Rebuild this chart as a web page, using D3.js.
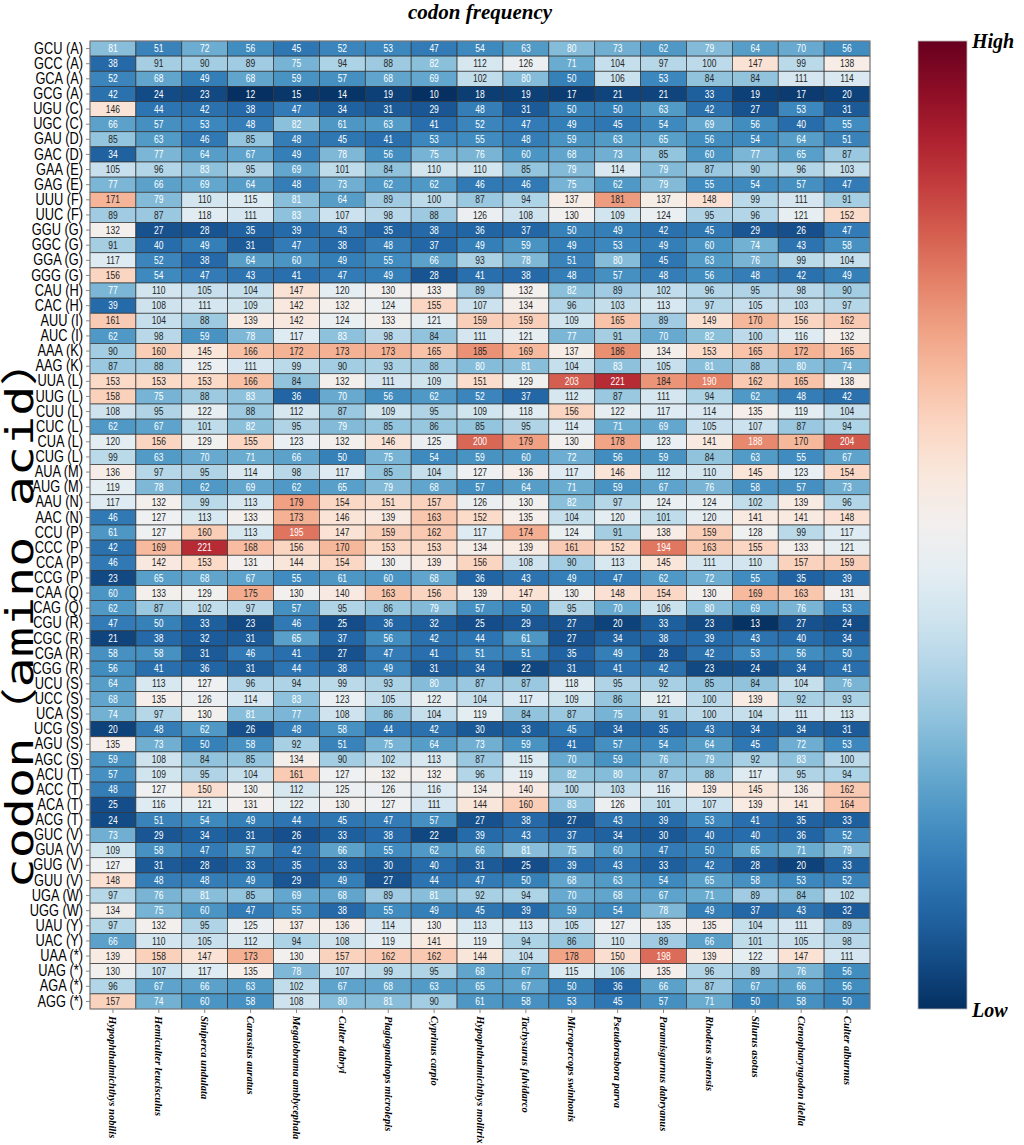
<!DOCTYPE html>
<html>
<head>
<meta charset="utf-8">
<script src="https://cdn.jsdelivr.net/npm/d3@7"></script>
<style>
  body { margin: 0; background: #fff; }
  svg { display: block; }
</style>
</head>
<body>
<script>
const species = [
  "Hypophthalmichthys nobilis", "Hemiculter leucisculus", "Siniperca undulata",
  "Carassius auratus", "Megalobrama amblycephala", "Culter dabryi",
  "Plagiognathops microlepis", "Cyprinus carpio", "Hypophthalmichthys molitrix",
  "Tachysurus fulvidarco", "Micropercops swinhonis", "Pseudorasbora parva",
  "Paramisgurnus dabryanus", "Rhodeus sinensis", "Silurus asotus",
  "Ctenopharyngodon idella", "Culter alburnus"
];

const codons = [
  "GCU (A)", "GCC (A)", "GCA (A)", "GCG (A)", "UGU (C)", "UGC (C)", "GAU (D)", "GAC (D)",
  "GAA (E)", "GAG (E)", "UUU (F)", "UUC (F)", "GGU (G)", "GGC (G)", "GGA (G)", "GGG (G)",
  "CAU (H)", "CAC (H)", "AUU (I)", "AUC (I)", "AAA (K)", "AAG (K)", "UUA (L)", "UUG (L)",
  "CUU (L)", "CUC (L)", "CUA (L)", "CUG (L)", "AUA (M)", "AUG (M)", "AAU (N)", "AAC (N)",
  "CCU (P)", "CCC (P)", "CCA (P)", "CCG (P)", "CAA (Q)", "CAG (Q)", "CGU (R)", "CGC (R)",
  "CGA (R)", "CGG (R)", "UCU (S)", "UCC (S)", "UCA (S)", "UCG (S)", "AGU (S)", "AGC (S)",
  "ACU (T)", "ACC (T)", "ACA (T)", "ACG (T)", "GUC (V)", "GUA (V)", "GUG (V)", "GUU (V)",
  "UGA (W)", "UGG (W)", "UAU (Y)", "UAC (Y)", "UAA (*)", "UAG (*)", "AGA (*)", "AGG (*)"
];

// one row per codon, one value per species
const counts = [
  [81, 51, 72, 56, 45, 52, 53, 47, 54, 63, 80, 73, 62, 79, 64, 70, 56],
  [38, 91, 90, 89, 75, 94, 88, 82, 112, 126, 71, 104, 97, 100, 147, 99, 138],
  [52, 68, 49, 68, 59, 57, 68, 69, 102, 80, 50, 106, 53, 84, 84, 111, 114],
  [42, 24, 23, 12, 15, 14, 19, 10, 18, 19, 17, 21, 21, 33, 19, 17, 20],
  [146, 44, 42, 38, 47, 34, 31, 29, 48, 31, 50, 50, 63, 42, 27, 53, 31],
  [66, 57, 53, 48, 82, 61, 63, 41, 52, 47, 49, 45, 54, 69, 56, 40, 55],
  [85, 63, 46, 85, 48, 45, 41, 53, 55, 48, 59, 63, 65, 56, 54, 64, 51],
  [34, 77, 64, 67, 49, 78, 56, 75, 76, 60, 68, 73, 85, 60, 77, 65, 87],
  [105, 96, 83, 95, 69, 101, 84, 110, 110, 85, 79, 114, 79, 87, 90, 96, 103],
  [77, 66, 69, 64, 48, 73, 62, 62, 46, 46, 75, 62, 79, 55, 54, 57, 47],
  [171, 79, 110, 115, 81, 64, 89, 100, 87, 94, 137, 181, 137, 148, 99, 111, 91],
  [89, 87, 118, 111, 83, 107, 98, 88, 126, 108, 130, 109, 124, 95, 96, 121, 152],
  [132, 27, 28, 35, 39, 43, 35, 38, 36, 37, 50, 49, 42, 45, 29, 26, 47],
  [91, 40, 49, 31, 47, 38, 48, 37, 49, 59, 49, 53, 49, 60, 74, 43, 58],
  [117, 52, 38, 64, 60, 49, 55, 66, 93, 78, 51, 80, 45, 63, 76, 99, 104],
  [156, 54, 47, 43, 41, 47, 49, 28, 41, 38, 48, 57, 48, 56, 48, 42, 49],
  [77, 110, 105, 104, 147, 120, 130, 133, 89, 132, 82, 89, 102, 96, 95, 98, 90],
  [39, 108, 111, 109, 142, 132, 124, 155, 107, 134, 96, 103, 113, 97, 105, 103, 97],
  [161, 104, 88, 139, 142, 124, 133, 121, 159, 159, 109, 165, 89, 149, 170, 156, 162],
  [62, 98, 59, 78, 117, 83, 98, 84, 111, 121, 77, 91, 70, 82, 100, 116, 132],
  [90, 160, 145, 166, 172, 173, 173, 165, 185, 169, 137, 186, 134, 153, 165, 172, 165],
  [87, 88, 125, 111, 99, 90, 93, 88, 80, 81, 104, 83, 105, 81, 88, 80, 74],
  [153, 153, 153, 166, 84, 132, 111, 109, 151, 129, 203, 221, 184, 190, 162, 165, 138],
  [158, 75, 88, 83, 36, 70, 56, 62, 52, 37, 112, 87, 111, 94, 62, 48, 42],
  [108, 95, 122, 88, 112, 87, 109, 95, 109, 118, 156, 122, 117, 114, 135, 119, 104],
  [62, 67, 101, 82, 95, 79, 85, 86, 85, 95, 114, 71, 69, 105, 107, 87, 94],
  [120, 156, 129, 155, 123, 132, 146, 125, 200, 179, 130, 178, 123, 141, 188, 170, 204],
  [99, 63, 70, 71, 66, 50, 75, 54, 59, 60, 72, 56, 59, 84, 63, 55, 67],
  [136, 97, 95, 114, 98, 117, 85, 104, 127, 136, 117, 146, 112, 110, 145, 123, 154],
  [119, 78, 62, 69, 62, 65, 79, 68, 57, 64, 71, 59, 67, 76, 58, 57, 73],
  [117, 132, 99, 113, 179, 154, 151, 157, 126, 130, 82, 97, 124, 124, 102, 139, 96],
  [46, 127, 113, 133, 173, 146, 139, 163, 152, 135, 104, 120, 101, 120, 141, 141, 148],
  [61, 127, 160, 113, 195, 147, 159, 162, 117, 174, 124, 91, 138, 159, 128, 99, 117],
  [42, 169, 221, 168, 156, 170, 153, 153, 134, 139, 161, 152, 194, 163, 155, 133, 121],
  [46, 142, 153, 131, 144, 154, 130, 139, 156, 108, 90, 113, 145, 111, 110, 157, 159],
  [23, 65, 68, 67, 55, 61, 60, 68, 36, 43, 49, 47, 62, 72, 55, 35, 39],
  [60, 133, 129, 175, 130, 140, 163, 156, 139, 147, 130, 148, 154, 130, 169, 163, 131],
  [62, 87, 102, 97, 57, 95, 86, 79, 57, 50, 95, 70, 106, 80, 69, 76, 53],
  [47, 50, 33, 23, 46, 25, 36, 32, 25, 29, 27, 20, 33, 23, 13, 27, 24],
  [21, 38, 32, 31, 65, 37, 56, 42, 44, 61, 27, 34, 38, 39, 43, 40, 34],
  [58, 58, 31, 46, 41, 27, 47, 41, 51, 51, 35, 49, 28, 42, 53, 56, 50],
  [56, 41, 36, 31, 44, 38, 49, 31, 34, 22, 31, 41, 42, 23, 24, 34, 41],
  [64, 113, 127, 96, 94, 99, 93, 80, 87, 87, 118, 95, 92, 85, 84, 104, 76],
  [68, 135, 126, 114, 83, 123, 105, 122, 104, 117, 109, 86, 121, 100, 139, 92, 93],
  [74, 97, 130, 81, 77, 108, 86, 104, 119, 84, 87, 75, 91, 100, 104, 111, 113],
  [20, 48, 62, 26, 48, 58, 44, 42, 30, 33, 45, 34, 35, 43, 34, 34, 31],
  [135, 73, 50, 58, 92, 51, 75, 64, 73, 59, 41, 57, 54, 64, 45, 72, 53],
  [59, 108, 84, 85, 134, 90, 102, 113, 87, 115, 70, 59, 76, 79, 92, 83, 100],
  [57, 109, 95, 104, 161, 127, 132, 132, 96, 119, 82, 80, 87, 88, 117, 95, 94],
  [48, 127, 150, 130, 112, 125, 126, 116, 134, 140, 100, 103, 116, 139, 145, 136, 162],
  [25, 116, 121, 131, 122, 130, 127, 111, 144, 160, 83, 126, 101, 107, 139, 141, 164],
  [24, 51, 54, 49, 44, 45, 47, 57, 27, 38, 27, 43, 39, 53, 41, 35, 33],
  [73, 29, 34, 31, 26, 33, 38, 22, 39, 43, 37, 34, 30, 40, 40, 36, 52],
  [109, 58, 47, 57, 42, 66, 55, 62, 66, 81, 75, 60, 47, 50, 65, 71, 79],
  [127, 31, 28, 33, 35, 33, 30, 40, 31, 25, 39, 43, 33, 42, 28, 20, 33],
  [148, 48, 48, 49, 29, 49, 27, 44, 47, 50, 68, 63, 54, 65, 58, 53, 52],
  [97, 76, 81, 85, 69, 68, 89, 81, 92, 94, 70, 68, 67, 71, 89, 84, 102],
  [134, 75, 60, 47, 55, 38, 55, 49, 45, 39, 59, 54, 78, 49, 37, 43, 32],
  [97, 132, 95, 125, 137, 136, 114, 130, 113, 113, 105, 127, 135, 135, 104, 111, 89],
  [66, 110, 105, 112, 94, 108, 119, 141, 119, 94, 86, 110, 89, 66, 101, 105, 98],
  [139, 158, 147, 173, 130, 157, 162, 162, 144, 104, 178, 150, 198, 139, 122, 147, 111],
  [130, 107, 117, 135, 78, 107, 99, 95, 68, 67, 115, 106, 135, 96, 89, 76, 56],
  [96, 67, 66, 63, 102, 67, 68, 63, 65, 67, 50, 36, 66, 87, 67, 66, 56],
  [157, 74, 60, 58, 108, 80, 81, 90, 61, 58, 53, 45, 57, 71, 50, 58, 50]
];

const colorDomain = [12, 250];
// values inside this band get dark annotation text, the rest white
const darkTextBand = [84, 186];

const width = 1024;
const height = 1145;
const margin = { top: 41, left: 90, right: 154, bottom: 136 };

const cells = counts.flatMap((row, i) =>
  row.map((v, j) => ({ codon: codons[i], species: species[j], value: v })));

const x = d3.scaleBand()
  .domain(species)
  .range([margin.left, width - margin.right]);

const y = d3.scaleBand()
  .domain(codons)
  .range([margin.top, height - margin.bottom]);

const color = d3.scaleSequential(t => d3.interpolateRdBu(1 - t))
  .domain(colorDomain);

const textColor = v =>
  (v >= darkTextBand[0] && v <= darkTextBand[1]) ? "#262626" : "#fff";

const svg = d3.select("body")
  .append("svg")
  .attr("width", width)
  .attr("height", height)
  .attr("viewBox", [0, 0, width, height]);

svg.append("text")
  .attr("x", (x.range()[0] + x.range()[1]) / 2)
  .attr("y", 19)
  .attr("text-anchor", "middle")
  .attr("font-family", "'Liberation Serif', serif")
  .attr("font-style", "italic")
  .attr("font-weight", "bold")
  .attr("font-size", 21)
  .text("codon frequency");

const cell = svg.append("g")
  .selectAll("g")
  .data(cells)
  .join("g")
  .attr("transform", d => `translate(${x(d.species)},${y(d.codon)})`);

cell.append("rect")
  .attr("width", x.bandwidth())
  .attr("height", y.bandwidth())
  .attr("fill", d => color(d.value))
  .attr("stroke", "#333")
  .attr("stroke-width", 0.7);

cell.append("text")
  .attr("transform", `translate(${x.bandwidth() / 2},${y.bandwidth() / 2}) scale(0.85,1)`)
  .attr("dy", "0.36em")
  .attr("text-anchor", "middle")
  .attr("font-family", "'Liberation Sans', sans-serif")
  .attr("font-size", 10)
  .attr("fill", d => textColor(d.value))
  .text(d => d.value);

// outer frame
svg.append("rect")
  .attr("x", x.range()[0])
  .attr("y", y.range()[0])
  .attr("width", x.range()[1] - x.range()[0])
  .attr("height", y.range()[1] - y.range()[0])
  .attr("fill", "none")
  .attr("stroke", "#999")
  .attr("stroke-width", 0.8);

// row labels, squeezed to a narrow face
const yAxis = svg.append("g")
  .attr("transform", `translate(${margin.left},0)`)
  .call(d3.axisLeft(y).tickSize(4).tickPadding(3));
yAxis.select(".domain").remove();
yAxis.selectAll(".tick line").attr("stroke", "#888");
yAxis.selectAll(".tick text")
  .attr("fill", "#000")
  .attr("x", 0)
  .attr("transform", "translate(-7,0) scale(0.8,1)")
  .attr("font-family", "'Liberation Sans', sans-serif")
  .attr("font-size", 16);

// column labels, read top to bottom
const xAxis = svg.append("g")
  .attr("transform", `translate(0,${y.range()[1]})`)
  .call(d3.axisBottom(x).tickSize(4).tickPadding(0));
xAxis.select(".domain").remove();
xAxis.selectAll(".tick line").attr("stroke", "#888");
xAxis.selectAll(".tick text")
  .attr("fill", "#000")
  .attr("font-family", "'Liberation Serif', serif")
  .attr("font-style", "italic")
  .attr("font-weight", "bold")
  .attr("font-size", 10.5)
  .attr("text-anchor", "start")
  .attr("y", 0)
  .attr("dy", null)
  .attr("dominant-baseline", "central")
  .attr("transform", "translate(0,7) rotate(90)");

svg.append("text")
  .attr("transform", `translate(33,${(y.range()[0] + y.range()[1]) / 2 + 87}) rotate(-90)`)
  .attr("text-anchor", "middle")
  .attr("font-family", "'DejaVu Sans Mono', 'Noto Sans CJK SC', monospace")
  .attr("font-size", 37)
  .attr("textLength", 553)
  .attr("lengthAdjust", "spacingAndGlyphs")
  .text("codon（amino acid）");

// colour bar
const barX = 918;
const barW = 49;
const defs = svg.append("defs");
const grad = defs.append("linearGradient")
  .attr("id", "bar-grad")
  .attr("x1", 0).attr("y1", 1).attr("x2", 0).attr("y2", 0);
grad.selectAll("stop")
  .data(d3.range(0, 1.0001, 0.05))
  .join("stop")
  .attr("offset", t => t)
  .attr("stop-color", t => color(colorDomain[0] + t * (colorDomain[1] - colorDomain[0])));

svg.append("rect")
  .attr("x", barX)
  .attr("y", y.range()[0])
  .attr("width", barW)
  .attr("height", y.range()[1] - y.range()[0])
  .attr("fill", "url(#bar-grad)")
  .attr("stroke", "#bbb")
  .attr("stroke-width", 0.8);

const barLabel = svg.append("g")
  .attr("font-family", "'Liberation Serif', serif")
  .attr("font-style", "italic")
  .attr("font-weight", "bold")
  .attr("font-size", 20);

barLabel.append("text")
  .attr("x", barX + barW + 5)
  .attr("y", y.range()[0] + 7)
  .text("High");

barLabel.append("text")
  .attr("x", barX + barW + 5)
  .attr("y", y.range()[1] + 8)
  .text("Low");
</script>
</body>
</html>
